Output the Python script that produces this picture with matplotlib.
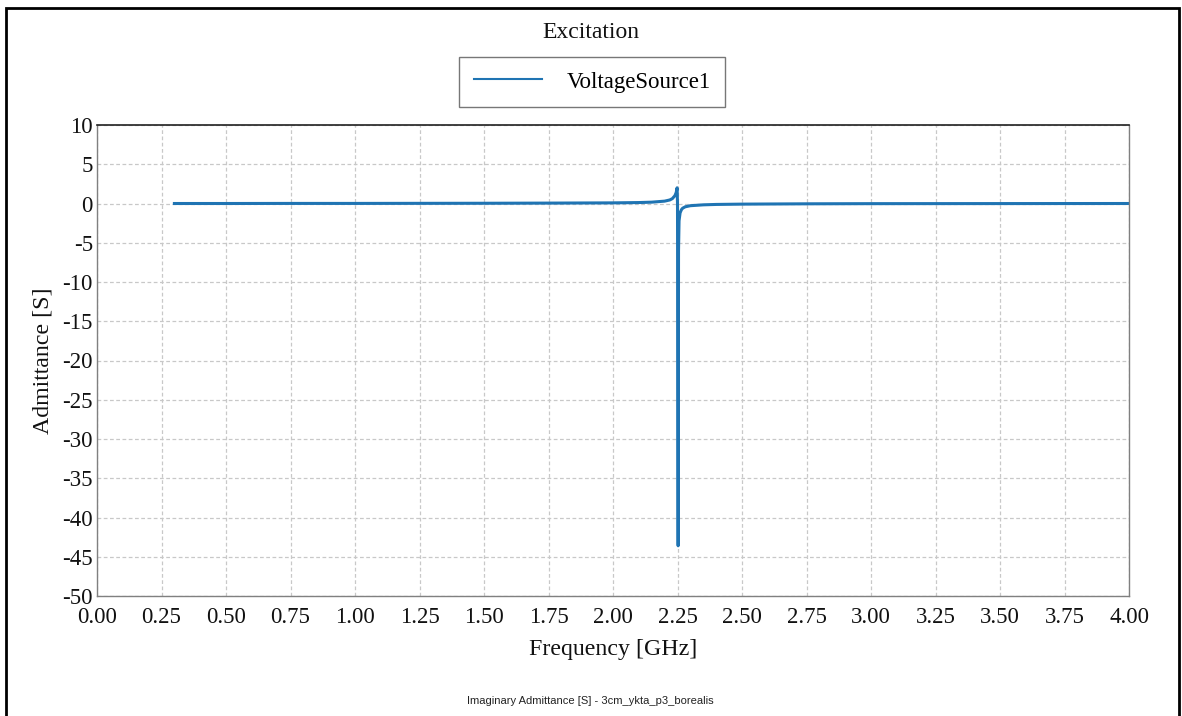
"""Imaginary admittance of the excitation port versus frequency."""

import matplotlib.pyplot as plt
from matplotlib.patches import Rectangle

# Imaginary admittance samples (GHz, S) for VoltageSource1
freq_ghz = [0.30, 0.50, 0.75, 1.00, 1.25, 1.50, 1.75, 2.00, 2.10, 2.15, 2.20,
            2.22, 2.23, 2.24, 2.245, 2.2485, 2.2500, 2.2525, 2.2540, 2.2560,
            2.2600, 2.2650, 2.2700, 2.2800, 2.3000, 2.3500, 2.4000, 2.5000,
            2.7500, 3.0000, 3.5000, 4.0000]
imag_admittance = [0.00, 0.00, 0.01, 0.01, 0.02, 0.03, 0.05, 0.08, 0.12, 0.17, 0.30,
                   0.45, 0.62, 1.00, 1.40, 2.00, 0.00, -43.60, -6.00, -2.20,
                   -1.20, -0.80, -0.60, -0.42, -0.28, -0.17, -0.12, -0.08,
                   -0.04, -0.02, -0.01, 0.00]

x_ticks = [0.00, 0.25, 0.50, 0.75, 1.00, 1.25, 1.50, 1.75, 2.00, 2.25, 2.50,
           2.75, 3.00, 3.25, 3.50, 3.75, 4.00]
y_ticks = [10, 5, 0, -5, -10, -15, -20, -25, -30, -35, -40, -45, -50]

SERIF = ["Liberation Serif", "DejaVu Serif"]
LINE_COLOR = "#1f74b3"

fig = plt.figure(figsize=(11.82, 7.16), dpi=100, facecolor="white")

# outer frame, open at the bottom edge
fig.patches.append(Rectangle((6 / 1182, -0.02), 1173 / 1182, 1 - 8 / 716 + 0.02,
                             transform=fig.transFigure, fill=False,
                             edgecolor="black", linewidth=2.0))

ax = fig.add_axes([97 / 1182, 1 - 596 / 716, (1129 - 97) / 1182, (596 - 125) / 716])
ax.plot(freq_ghz, imag_admittance, color=LINE_COLOR, linewidth=2.2,
        label="VoltageSource1")

ax.set_xlim(0, 4)
ax.set_ylim(-50, 10)
ax.set_xticks(x_ticks)
ax.set_xticklabels([f"{v:.2f}" for v in x_ticks])
ax.set_yticks(y_ticks)
ax.set_yticklabels([str(v) for v in y_ticks])
ax.tick_params(length=0, labelsize=16.5, labelcolor="#111111")
ax.tick_params(axis="x", pad=8)
ax.tick_params(axis="y", pad=3)
for label in ax.get_xticklabels() + ax.get_yticklabels():
    label.set_family(SERIF)
ax.grid(True, color="#c8c8c8", linestyle=(0, (3, 2)), linewidth=0.9)
ax.set_axisbelow(True)
for side in ("left", "right", "bottom"):
    ax.spines[side].set_color("#808080")
    ax.spines[side].set_linewidth(1.0)
ax.spines["top"].set_color("#202020")
ax.spines["top"].set_linewidth(1.2)

ax.set_xlabel("Frequency [GHz]", family=SERIF, fontsize=17.2, labelpad=8,
              color="#111111")
ax.set_ylabel("Admittance [S]", family=SERIF, fontsize=17.2, labelpad=6,
              color="#111111")

fig.text(591 / 1182, 1 - 33 / 716, "Excitation", family=SERIF, fontsize=17,
         ha="center", va="center", color="#111111")
leg = fig.legend(loc="center", bbox_to_anchor=(592 / 1182, 1 - 82 / 716),
                 prop={"family": SERIF, "size": 16.5}, frameon=True,
                 fancybox=False, edgecolor="#555555", handlelength=3.0,
                 handletextpad=1.05, borderpad=0.62, borderaxespad=0)
leg.get_frame().set_linewidth(1.0)
for line in leg.get_lines():
    line.set_linewidth(1.5)

fig.text(590 / 1182, 1 - 701 / 716,
         "Imaginary Admittance [S] - 3cm_ykta_p3_borealis",
         family=["Liberation Sans", "DejaVu Sans"], fontsize=8, ha="center",
         va="center", color="#222222")

fig.savefig("out.png", dpi=100, facecolor="white")
